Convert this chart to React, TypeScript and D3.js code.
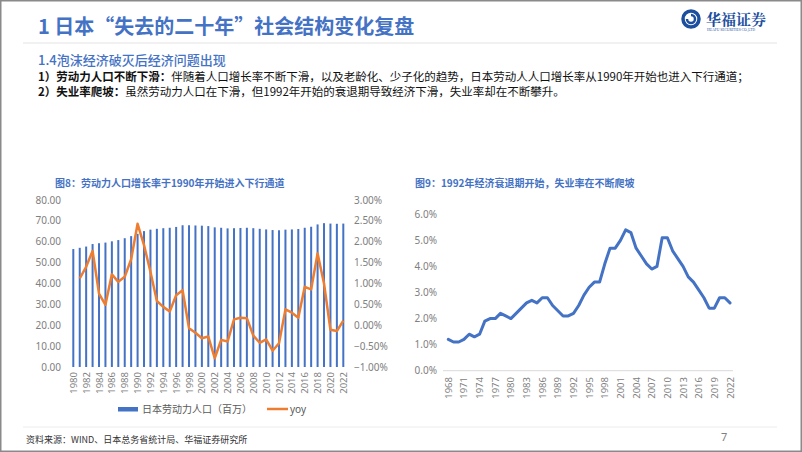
import * as d3 from "d3";

// ---- data ----
const laborYears = d3.range(1980, 2023).map(String);
const laborForce = [
  56.5, 57.1, 57.7, 58.9, 59.3, 59.6, 60.2, 60.8, 61.7, 62.7, 63.8, 65.1, 65.8, 66.2, 66.5,
  66.7, 67.1, 67.9, 67.9, 67.8, 67.7, 67.5, 66.9, 66.7, 66.4, 66.5, 66.6, 66.7, 66.5, 66.2,
  65.9, 65.6, 65.5, 65.8, 65.9, 66.1, 66.7, 67.2, 68.3, 68.9, 68.7, 68.6, 68.7,
];
// yoy in %, starting 1981
const laborYoy = [
  1.12, 1.4, 1.78, 0.76, 0.49, 1.22, 1.04, 1.16, 1.58, 2.43, 1.92, 1.28, 0.58, 0.44, 0.33,
  0.72, 0.84, -0.07, -0.18, -0.31, -0.27, -0.79, -0.35, -0.39, 0.14, 0.18, 0.17, -0.25,
  -0.42, -0.34, -0.61, -0.43, 0.38, 0.3, 0.18, 0.92, 0.86, 1.72, 1.0, -0.11, -0.14, 0.11,
];
const leftTicks = [0, 10, 20, 30, 40, 50, 60, 70, 80];
const rightTicks = [-1, -0.5, 0, 0.5, 1, 1.5, 2, 2.5, 3];

const unempYears = d3.range(1968, 2023).map(String);
const unempRate = [
  1.2, 1.1, 1.1, 1.2, 1.4, 1.3, 1.4, 1.9, 2.0, 2.0, 2.2, 2.1, 2.0, 2.2, 2.4, 2.6, 2.7, 2.6,
  2.8, 2.8, 2.5, 2.3, 2.1, 2.1, 2.2, 2.5, 2.9, 3.2, 3.4, 3.4, 4.1, 4.7, 4.7, 5.0, 5.4, 5.3,
  4.7, 4.4, 4.1, 3.9, 4.0, 5.1, 5.1, 4.6, 4.3, 4.0, 3.6, 3.4, 3.1, 2.8, 2.4, 2.4, 2.8, 2.8,
  2.6,
];
const unempTicks = [0, 1, 2, 3, 4, 5, 6];

const BLUE = "#4472C4";
const ORANGE = "#ED7D31";
const GRAY = "#808080";
const CJK = "'Noto Sans CJK SC', sans-serif";
const NUM = "'Noto Sans', 'Noto Sans CJK SC', sans-serif";

const LeftChart = () => {
  const x = d3.scalePoint<string>().domain(laborYears).range([73.3, 343.3]);
  const yL = d3.scaleLinear().domain([0, 80]).range([367, 200]);
  const yR = d3.scaleLinear().domain([-1, 3]).range([367, 200]);
  const fmtL = d3.format(".2f");
  const fmtR = (v: number) => d3.format(".2f")(v) + "%";

  const line = d3
    .line<number>()
    .x((_, i) => x(laborYears[i + 1]) as number)
    .y((d) => yR(d));

  return (
    <g>
      <text x={55} y={187} fill={BLUE} fontSize={10} fontWeight="bold" fontFamily={CJK}>
        图8：劳动力人口增长率于1990年开始进入下行通道
      </text>
      {leftTicks.map((t) => (
        <text key={t} x={61} y={yL(t) + 3.5} textAnchor="end" fontSize={10} fill={GRAY} fontFamily={NUM}>
          {fmtL(t)}
        </text>
      ))}
      {rightTicks.map((t) => (
        <text key={t} x={354} y={yR(t) + 3.5} fontSize={10} fill={GRAY} fontFamily={NUM}>
          {fmtR(t)}
        </text>
      ))}
      {laborForce.map((v, i) => (
        <rect key={i} x={(x(laborYears[i]) as number) - 1} y={yL(v)} width={2} height={yL(0) - yL(v)} fill={BLUE} />
      ))}
      <path d={line(laborYoy) || ""} fill="none" stroke={ORANGE} strokeWidth={2.5} strokeLinejoin="round" />
      {laborYears
        .filter((_, i) => i % 2 === 0)
        .map((yr) => (
          <text
            key={yr}
            transform={`translate(${(x(yr) as number) + 3.5},372) rotate(-90)`}
            textAnchor="end"
            fontSize={9.5}
            fill={GRAY}
            fontFamily={NUM}
          >
            {yr}
          </text>
        ))}
      {/* legend */}
      <rect x={118} y={407} width={20} height={4.5} fill={BLUE} />
      <text x={142} y={412.5} fontSize={10} fill="#595959" fontFamily={CJK}>
        日本劳动力人口（百万）
      </text>
      <line x1={267} x2={288} y1={409} y2={409} stroke={ORANGE} strokeWidth={2.5} />
      <text x={290} y={412.5} fontSize={10} fill="#595959" fontFamily={NUM}>
        yoy
      </text>
    </g>
  );
};

const RightChart = () => {
  const x = d3.scalePoint<string>().domain(unempYears).range([448.3, 730]);
  const y = d3.scaleLinear().domain([0, 6]).range([370.7, 214.3]);
  const fmt = (v: number) => d3.format(".1f")(v) + "%";
  const line = d3
    .line<number>()
    .x((_, i) => x(unempYears[i]) as number)
    .y((d) => y(d));

  return (
    <g>
      <text x={415} y={187} fill={BLUE} fontSize={10} fontWeight="bold" fontFamily={CJK}>
        图9：1992年经济衰退期开始，失业率在不断爬坡
      </text>
      {unempTicks.map((t) => (
        <text key={t} x={437} y={y(t) + 3.5} textAnchor="end" fontSize={10} fill={GRAY} fontFamily={NUM}>
          {fmt(t)}
        </text>
      ))}
      <line x1={443} x2={733} y1={y(0)} y2={y(0)} stroke="#d9d9d9" strokeWidth={1} />
      <path d={line(unempRate) || ""} fill="none" stroke={BLUE} strokeWidth={3} strokeLinejoin="round" strokeLinecap="round" />
      {unempYears
        .filter((_, i) => i % 3 === 0)
        .map((yr) => (
          <text
            key={yr}
            transform={`translate(${(x(yr) as number) + 3.5},377) rotate(-90)`}
            textAnchor="end"
            fontSize={9.5}
            fill={GRAY}
            fontFamily={NUM}
          >
            {yr}
          </text>
        ))}
    </g>
  );
};

const Logo = () => (
  <g>
    <circle cx={691} cy={19} r={8} fill="none" stroke="#1d4f9f" strokeWidth={3.5} />
    <path d="M687 19 a4 4 0 1 0 4 -4" fill="none" stroke="#1d4f9f" strokeWidth={2.5} />
    <text x={706} y={25} fontSize={15} fill="#1d4f9f" fontWeight="bold" fontFamily="'Noto Serif CJK SC', 'Noto Sans CJK SC', serif">
      华福证券
    </text>
    <text x={707} y={31} fontSize={3.6} fill="#1d4f9f" fontFamily="'Liberation Serif', serif">
      HUAFU SECURITIES CO.,LTD
    </text>
  </g>
);

export default function App() {
  return (
    <svg
      width={802}
      height={452}
      style={{ position: "absolute", left: 0, top: 0, background: "#fff" }}
    >
      <rect x={0} y={0} width={802} height={452} fill="#fff" />
      <text x={38} y={34} fontSize={20} fontWeight="bold" fill={BLUE} fontFamily={CJK}>
        1 日本“失去的二十年”社会结构变化复盘
      </text>
      <Logo />
      <line x1={23} x2={777} y1={43} y2={43} stroke="#e3e3e3" strokeWidth={1.2} />
      <text x={38} y={64.5} fontSize={13} fill={BLUE} fontFamily={CJK} fontWeight={500}>
        1.4泡沫经济破灭后经济问题出现
      </text>
      <text x={38} y={81} fontSize={11.5} fill="#111" fontFamily={CJK}>
        <tspan fontWeight="bold">1）劳动力人口不断下滑：</tspan>
        伴随着人口增长率不断下滑，以及老龄化、少子化的趋势，日本劳动人人口增长率从1990年开始也进入下行通道；
      </text>
      <text x={38} y={95.5} fontSize={11.5} fill="#111" fontFamily={CJK}>
        <tspan fontWeight="bold">2）失业率爬坡：</tspan>
        虽然劳动力人口在下滑，但1992年开始的衰退期导致经济下滑，失业率却在不断攀升。
      </text>
      <LeftChart />
      <RightChart />
      <line x1={23} x2={777} y1={427} y2={427} stroke="#ececec" strokeWidth={1} />
      <text x={26} y={443} fontSize={9} fill="#333" fontFamily={CJK}>
        资料来源：WIND、日本总务省统计局、华福证券研究所
      </text>
      <text x={721} y={441} fontSize={11} fill={GRAY} fontFamily={NUM}>
        7
      </text>
      <rect x={0.75} y={0.75} width={800.5} height={450.5} fill="none" stroke="#8a8a8a" strokeWidth={1.5} />
    </svg>
  );
}
